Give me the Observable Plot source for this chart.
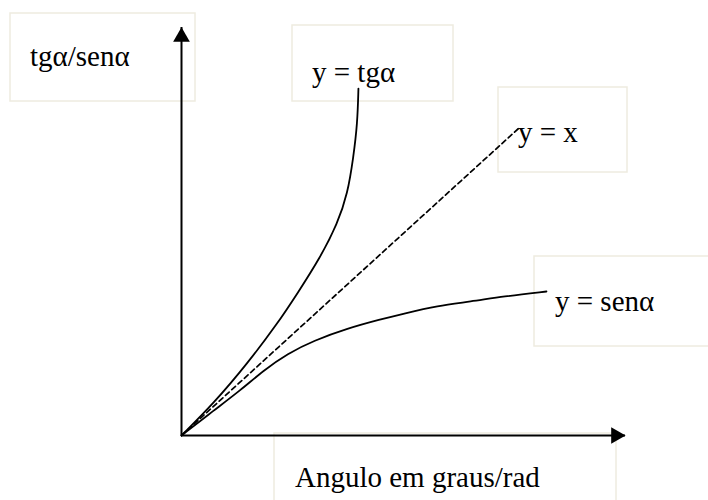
<!DOCTYPE html>
<html>
<head>
<meta charset="utf-8">
<script src="https://cdn.jsdelivr.net/npm/d3@7"></script>
<script src="https://cdn.jsdelivr.net/npm/@observablehq/plot@0.6"></script>
<style>
  html, body { margin: 0; padding: 0; background: #fff; }
  #chart { position: relative; width: 708px; height: 500px; overflow: hidden; }
</style>
</head>
<body>
<div id="chart"></div>
<script>
// ---- data (abstract units: the dashed line y = x ends at 1) ----
const tgX  = [0, 0.095, 0.196, 0.285, 0.344, 0.412, 0.463, 0.493, 0.510, 0.522, 0.525];
const tgY  = [0, 0.104, 0.235, 0.365, 0.463, 0.580, 0.691, 0.788, 0.906, 1.016, 1.130];
const senX = [0, 0.095, 0.175, 0.243, 0.315, 0.392, 0.493, 0.590, 0.659, 0.760, 0.858, 0.955, 1.083];
const senY = [0, 0.081, 0.147, 0.212, 0.267, 0.309, 0.349, 0.378, 0.397, 0.423, 0.436, 0.453, 0.469];
const retaX = [0, 1.0];
const retaY = [0, 1.0];
const xDomain = [0, 1.3175];
const yDomain = [0, 1.329];

// ---- texts ----
const labels = ["tgα/senα", "y = tgα", "y = x", "y = senα", "Angulo em graus/rad"];

const toPts = (xs, ys) => xs.map((x, i) => ({x, y: ys[i]}));
const tg = toPts(tgX, tgY);
const sen = toPts(senX, senY);
const reta = toPts(retaX, retaY);

const W = 708, H = 500;
const plot = Plot.plot({
  width: W, height: H,
  marginLeft: 181, marginRight: 83, marginTop: 27, marginBottom: 65,
  x: {domain: xDomain, axis: null},
  y: {domain: yDomain, axis: null},
  style: {background: "transparent", overflow: "visible"},
  marks: [
    Plot.ruleY([0], {stroke: "black", strokeWidth: 2}),
    Plot.ruleX([0], {stroke: "black", strokeWidth: 2}),
    Plot.dot([{x: xDomain[1], y: 0}], {x: "x", y: "y", symbol: "triangle", rotate: 90, r: 6.2, fill: "black", stroke: null, dx: -9.5}),
    Plot.dot([{x: 0, y: yDomain[1]}], {x: "x", y: "y", symbol: "triangle", r: 6.2, fill: "black", stroke: null, dy: 9.5}),
    Plot.line(reta, {x: "x", y: "y", stroke: "black", strokeWidth: 1.7, strokeDasharray: "5,3.5"}),
    Plot.line(tg, {x: "x", y: "y", stroke: "black", strokeWidth: 1.8, curve: "basis"}),
    Plot.line(sen, {x: "x", y: "y", stroke: "black", strokeWidth: 1.8, curve: "basis"})
  ]
});
document.getElementById("chart").appendChild(plot);

// ---- text boxes (pixel layout) ----
const boxes = [
  {text: labels[0], x0: 10,  y0: 13,  x1: 195, y1: 101, tx: 30,  ty: 66},
  {text: labels[1], x0: 292, y0: 25,  x1: 453, y1: 101, tx: 312, ty: 82},
  {text: labels[2], x0: 498, y0: 87,  x1: 627, y1: 172, tx: 518, ty: 142},
  {text: labels[3], x0: 534, y0: 256, x1: 712, y1: 346, tx: 555, ty: 311},
  {text: labels[4], x0: 274, y0: 433, x1: 616, y1: 504, tx: 295, ty: 487}
];
const svg = d3.select(plot);
const g = svg.insert("g", ":first-child");
g.selectAll("rect").data(boxes).join("rect")
  .attr("x", d => d.x0).attr("y", d => d.y0)
  .attr("width", d => d.x1 - d.x0).attr("height", d => d.y1 - d.y0)
  .attr("fill", "none").attr("stroke", "#eeebe0").attr("stroke-width", 1.5);
svg.append("g").attr("text-anchor", "start").selectAll("text").data(boxes).join("text")
  .attr("x", d => d.tx).attr("y", d => d.ty)
  .attr("text-anchor", "start")
  .attr("font-family", "'Liberation Serif', 'Times New Roman', serif")
  .attr("font-size", 29).attr("fill", "black")
  .text(d => d.text);
</script>
</body>
</html>
